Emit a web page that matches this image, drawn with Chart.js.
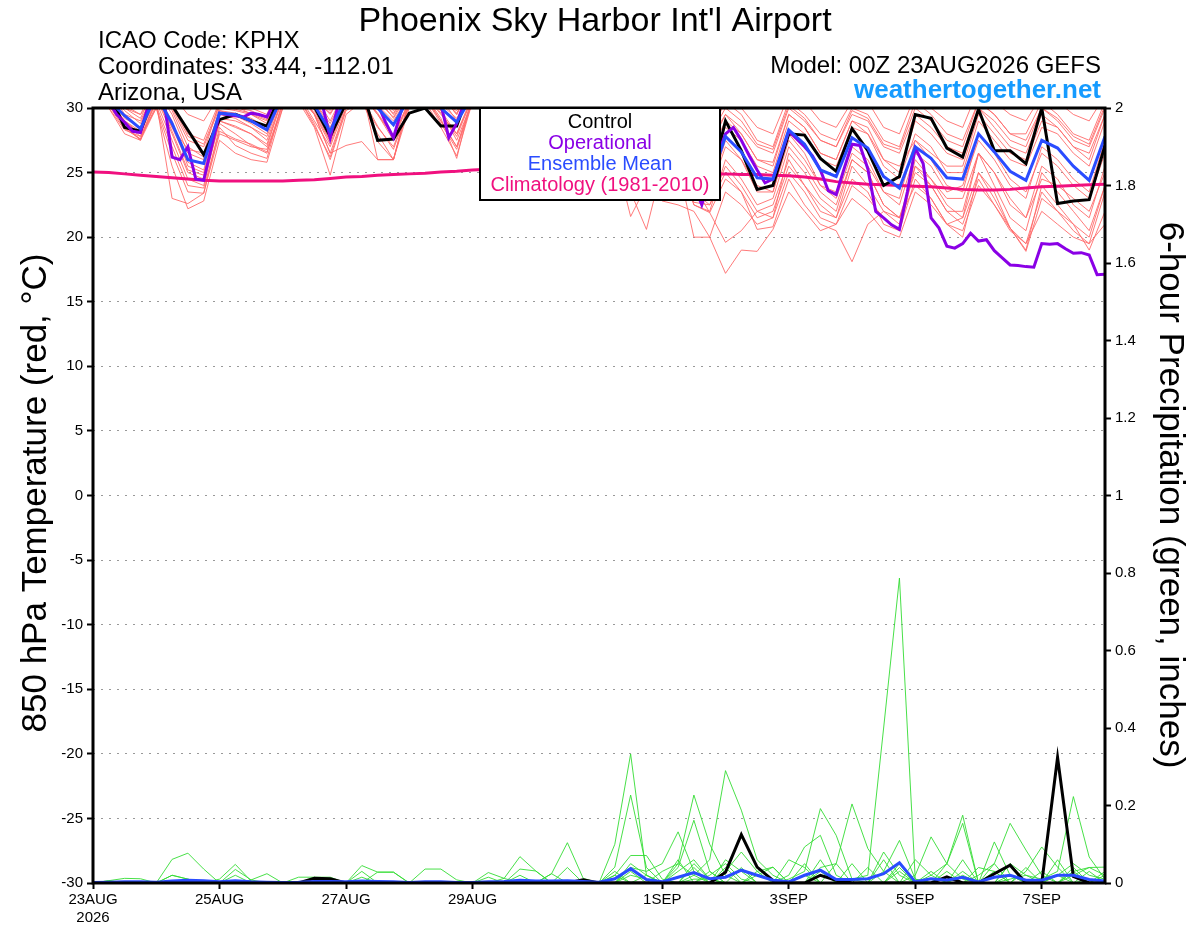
<!DOCTYPE html>
<html lang="en">
<head>
<meta charset="UTF-8" />
<title>Phoenix Sky Harbor Int'l Airport</title>
<script src="https://cdn.jsdelivr.net/npm/chart.js"></script>
<style>
  body { margin: 0; background: #fff; }
  canvas { display: block; }
</style>
</head>
<body>
<canvas id="gefsChart" width="1200" height="927"></canvas>
<script>
// 6-hourly steps from 00Z 23AUG2026 (step 0 .. 64)
const tickSteps = [0, 8, 16, 24, 36, 44, 52, 60];
const tickLabels = [["23AUG", "2026"], "25AUG", "27AUG", "29AUG", "1SEP", "3SEP", "5SEP", "7SEP"];

// 850 hPa temperature (C), 6-hourly
const controlTemp = [32,31.2,28.5,28.2, 31.5,30.2,28.3,26.4, 29.1,29.5,29.0,28.6, 31.5,31.8,30.1,27.8,
  30.4,31.5,27.5,27.6, 29.6,30.0,28.6,28.6, 32.0,32.0,31.0,29.0, 31.0,31.5,30.5,28.5,
  30.5,30.5,29.0,27.0, 29.5,29.0,26.5,24.0, 29.0,26.7,23.7,24.0, 28.0,27.9,26.1,25.1,
  28.4,26.7,24.0,24.7, 29.5,29.2,26.9,26.2, 29.9,26.7,26.7,25.7, 30.0,22.6,22.8,22.9, 27.1];

const meanTemp = [31.5,30.6,29.4,28.4, 31.0,28.8,26.0,25.7, 29.6,29.5,29.0,28.3, 31.0,31.5,30.2,28.2,
  30.8,31.5,30.0,28.7, 30.8,31.5,30.0,28.9, 31.0,31.5,30.5,28.8, 31.0,31.2,30.2,28.5,
  30.5,30.5,29.0,27.5, 29.8,29.0,26.8,24.2, 27.8,26.6,24.6,24.5, 28.3,27.2,25.2,24.7,
  27.7,26.9,24.7,23.8, 27.0,26.1,24.6,24.5, 28.0,26.6,25.1,24.4, 27.5,26.9,25.5,24.4, 27.8];

const climTemp = [25.05,25.0,24.9,24.8,24.7,24.6,24.5,24.4,24.35,24.35,
  24.35,24.35,24.35,24.4,24.45,24.55,24.65,24.7,24.8,24.85,
  24.9,24.95,25.05,25.1,25.2,25.25,25.3,25.3,25.3,25.3,
  25.3,25.25,25.2,25.2,25.1,25.1,25.05,25.0,24.95,24.9,
  24.9,24.85,24.85,24.8,24.75,24.65,24.5,24.3,24.2,24.1,
  24.05,24.0,23.95,23.9,23.8,23.7,23.65,23.65,23.7,23.8,
  23.9,23.95,24.0,24.05,24.1];

// operational run, 3-hourly
const opTemp = [31.5,31,30.5,29.5,28.9,28.2,28.1,30.2,31,30.5,
  26.2,26.0,27.0,24.5,24.4,27.0,29.6,29.5,29.4,29.3,
  29.6,29.5,29.3,30.5,31.5,32,31.5,31,30.8,30.3,
  27.7,30.2,31,31.5,31.5,31,30.3,28.9,27.7,29.8,
  31,31.5,31.5,31,30.3,27.7,28.8,30.5,31.5,31.5,
  31,30,29,29.5,30.5,31.5,32,31.5,31,30,
  29,29.5,30.5,31.5,31.5,31,30.5,29,28,28.5,
  29.5,30,29.5,28.5,27,25.5,24,22.5,24.5,26.3,
  28.0,28.5,27.5,26.3,25.2,24.2,24.5,26.3,28.2,27.6,
  27.0,26.3,25.2,23.6,23.3,25.3,27.2,27.1,25.3,22.0,
  21.5,20.95,20.6,23.5,26.9,25.7,21.5,20.7,19.3,19.15,
  19.5,20.3,19.7,19.8,18.95,18.4,17.85,17.8,17.72,17.67,
  19.5,19.45,19.5,19.1,18.75,18.8,18.62,17.1,17.13];

// ensemble members, 6-hourly
const memberTemps = [
  [32,31,28.5,27.6, 30.5,23.0,22.6,23.4, 28.5,27.1,26.5,26.1, 30.5,31,29.5,26.5, 30,31,27.4,26.0, 30.5,31,29.2,26.1,
   31,31.5,30,27.5, 30.5,30.5,29,26.5, 29.5,28,24.5,23.0, 27,25.5,20.0,20.0, 17.2,19.0,18.9,20.6, 23.5,22.0,20.5,21.0,
   23.0,22.0,20.5,20.0, 23.5,22.5,21.0,20.5, 24.0,22.5,20.7,19.5, 22.0,21.0,20.0,19.5, 21.0],
  [33,32,30.5,30, 32.5,31,29.5,29.0, 31,30.5,30,29.5, 32.5,33,31.5,30.5, 32,33,31.5,30.5, 32,33,31.5,30.5,
   32.5,33,32,31, 32.5,33,32,30.5, 32,32,31,30, 31.5,31,29.5,29, 30.5,30,28.5,28, 31,30.5,29,28.5,
   30.5,30.5,28.5,28, 31,30,29,28.5, 31.5,30.5,29.5,29, 31,30.5,29.5,29, 31],
  [31.5,30.5,28.8,27.8, 30.5,27.5,24.5,24.0, 29.0,28.5,28.0,27.0, 30.8,31,29.5,27.2, 30.5,31,29.5,27.8, 30.5,31,29.8,27.5,
   30.5,31,29.8,27.5, 30.5,30.5,29.0,27.0, 29.5,29.0,27.0,24.8, 27.5,26.0,22.5,21.9, 19.6,20.5,22.0,22.5, 26.0,24.0,22.5,21.5,
   25.5,24.0,22.0,21.0, 26.0,24.5,22.5,21.5, 26.5,24.0,21.5,20.5, 25.0,23.5,22.0,20.5, 24.0],
  [32.5,31.5,29.5,29.0, 31.5,30.0,27.5,27.0, 30.0,29.8,29.5,29.0, 31.5,32,30.8,29.5, 31.5,32,30.5,29.3, 31.5,32,30.5,29.8,
   31.5,32,31,29.5, 31.5,32,31,29.5, 31.0,31.0,30.0,29.0, 30.5,30.0,28.5,27.5, 29.5,28.5,27.0,26.5, 30.0,29.0,27.5,27.0,
   29.5,29.0,27.0,26.5, 29.5,28.5,27.0,26.5, 30.0,29.0,27.5,27.0, 30.0,29.0,27.5,27.0, 30.0],
  [31,30,28.0,27.5, 30,25.5,22.2,22.8, 27.5,26.5,26.0,25.8, 30,30.5,28.5,24.8, 29.5,30.5,28.0,26.0, 30.0,30.5,28.5,26.3,
   30.5,31,29.5,28.0, 30,30,28.5,26.0, 28.5,27.5,23.5,20.6, 25.5,24.5,22.7,22.5, 25.0,23.5,20.6,20.8, 24.5,22.5,21.0,20.5,
   18.1,21.0,22.0,21.5, 24.0,23.0,21.0,20.0, 25.0,23.0,20.7,19.0, 24.0,22.5,21.0,19.0, 22.0],
  [32,31,29.8,28.8, 31.5,29.5,26.5,26.0, 29.8,29.6,29.2,28.5, 31.2,31.8,30.5,28.5, 31,31.8,30.2,29.0, 31,31.8,30.3,29.2,
   31.2,31.8,30.8,29.0, 31.2,31.5,30.5,28.8, 30.8,30.8,29.5,28.0, 30.0,29.5,27.5,26.0, 28.5,27.5,25.5,25.0, 29.0,28.0,26.0,25.5,
   28.5,28.0,25.5,24.5, 28.0,27.0,25.0,25.0, 29.0,27.5,26.0,25.5, 28.5,28.0,26.5,25.5, 29.0],
  [31.2,30.2,28.6,27.5, 30.8,28.0,25.0,24.5, 28.8,28.0,27.1,26.5, 30.5,31.0,29.0,27.0, 30.2,31.0,29.5,27.5, 30.5,31.0,29.5,28.0,
   30.8,31.2,30.0,28.0, 30.8,30.8,29.5,27.8, 30.0,29.5,27.5,26.0, 28.5,27.0,22.5,22.0, 26.0,24.5,22.5,23.0, 27.0,25.5,23.5,22.5,
   26.0,25.0,22.5,21.5, 25.5,24.5,23.0,23.0, 26.5,25.0,22.5,21.5, 24.5,24.0,23.0,22.0, 25.0],
  [32,31.5,30.0,29.5, 31.0,28.5,26.8,26.5, 30.5,30.2,29.5,28.8, 31.8,32.2,31.0,29.0, 31.5,32.0,31.0,29.5, 31.5,32.2,31.0,29.5,
   32.0,32.2,31.2,30.0, 31.8,31.8,31.0,29.5, 31.5,31.0,30.0,28.5, 30.5,29.8,28.0,27.0, 29.5,28.0,26.0,25.8, 29.5,28.5,26.5,26.0,
   29.0,28.5,26.0,25.5, 27.5,26.5,25.5,25.5, 29.5,28.0,26.5,26.0, 29.0,28.5,27.0,26.0, 29.5],
  [31.8,30.8,29.0,28.2, 31.2,29.0,25.5,25.0, 29.2,29.0,28.5,27.8, 31.0,31.5,29.8,27.5, 30.8,31.5,26.0,26.0, 30.8,31.5,29.8,28.0,
   31.0,31.5,30.2,28.2, 31.0,31.0,29.8,28.0, 30.2,29.8,28.5,26.5, 29.0,28.5,25.5,23.5, 27.0,26.0,23.5,23.5, 28.0,26.5,24.0,23.5,
   27.0,26.0,23.5,22.5, 26.5,25.5,23.5,24.0, 27.5,26.0,24.0,23.0, 27.0,26.0,24.5,23.5, 27.5],
  [31.5,30.5,29.0,28.0, 30.8,28.5,25.8,25.2, 29.5,29.2,28.5,27.5, 30.8,31.2,29.5,26.5, 27.1,27.4,26.0,26.0, 30.5,31.0,29.0,27.0,
   30.8,31.2,30.0,28.0, 30.5,30.8,29.5,27.5, 29.8,29.0,27.0,25.0, 28.0,27.0,24.0,21.9, 24.5,23.5,21.5,22.0, 25.5,24.0,22.0,21.5,
   24.5,23.5,21.0,20.5, 24.5,23.0,21.0,21.5, 25.0,23.5,20.7,18.9, 23.0,22.0,20.5,19.5, 23.5],
  [32.5,32,30.2,29.5, 32,30.5,28.0,27.5, 30.5,30.0,29.8,29.2, 32,32.5,31,29.8, 31.8,32.5,31,29.8, 31.8,32.5,31,29.5,
   32,32.5,31.5,30.2, 32,32.2,31.2,30, 31.5,31.5,30.5,29.5, 31.0,30.5,29.0,28.0, 30.5,29.5,27.5,27.0, 30.5,29.5,28.0,27.5,
   30.0,29.5,27.5,27.0, 30.5,29.5,28.0,27.5, 30.5,29.5,28.0,28.0, 30.5,29.5,28.0,27.5, 30.5],
  [31.0,30.0,28.3,27.8, 30.0,26.5,23.5,23.4, 28.0,27.5,27.0,26.8, 30.2,30.8,28.8,26.0, 29.8,30.5,28.5,27.0, 30.2,30.8,29.0,27.0,
   30.5,31.0,29.5,27.5, 30.2,30.2,28.8,27.0, 29.0,26.5,21.6,24.0, 22.8,22.5,22.0,20.0, 23.5,22.5,21.0,21.5, 26.5,25.0,23.0,22.0,
   26.0,25.0,22.5,21.5, 25.0,24.0,22.0,22.0, 26.5,25.0,23.0,21.5, 25.5,24.5,22.5,21.5, 25.5],
  [32.2,31.2,29.2,28.5, 31.5,29.8,27.0,26.2, 29.8,29.4,28.8,28.0, 31.5,32,30.5,28.8, 31.2,32,30.8,29.2, 31.2,32,30.8,29.0,
   31.5,32,31,29.2, 31.5,31.5,30.5,29.0, 31.0,30.5,29.5,28.5, 30.5,30.0,28.0,26.5, 29.0,28.0,26.0,25.5, 29.5,28.5,26.5,26.0,
   29.0,28.0,26.0,25.0, 29.0,28.0,26.5,26.0, 30.0,28.5,27.0,26.5, 29.5,28.5,27.0,26.5, 29.5],
  [31.0,30.2,28.4,27.6, 30.2,27.0,24.0,23.8, 28.2,27.6,27.2,26.6, 30.0,30.8,28.6,26.2, 30.0,30.8,28.6,26.8, 30.2,30.8,28.8,26.8,
   30.5,31.0,29.2,27.2, 30.0,30.0,28.5,26.8, 29.2,28.2,26.0,24.5, 27.0,25.0,23.5,22.5, 25.5,24.0,22.0,21.5, 25.0,23.5,21.5,21.0,
   24.0,23.0,21.5,20.5, 25.5,24.0,22.0,21.0, 24.5,22.5,20.5,19.5, 23.5,22.0,21.0,20.0, 24.0],
  [31.6,30.6,28.9,28.0, 31.0,28.2,25.2,24.8, 29.0,28.6,28.0,27.2, 30.8,31.2,29.6,27.4, 30.6,31.2,29.6,27.8, 30.6,31.2,29.6,27.8,
   30.8,31.2,29.9,27.8, 30.6,30.6,29.2,27.2, 29.6,29.2,27.5,25.5, 28.5,27.5,24.5,23.5, 27.5,26.0,24.0,23.5, 27.5,26.0,24.0,23.0,
   26.5,25.5,23.5,23.0, 27.5,26.0,24.0,23.5, 28.0,26.5,24.5,23.5, 26.5,25.5,24.0,23.0, 26.5],
  [32.8,31.8,30.0,29.2, 31.8,30.2,27.8,27.2, 30.2,29.9,29.6,29.1, 31.8,32.2,31.0,29.6, 31.6,32.2,30.8,29.6, 31.6,32.2,30.8,29.6,
   31.8,32.2,31.2,29.8, 31.8,32.0,31.0,29.6, 31.2,31.2,30.2,29.2, 30.8,30.2,28.8,27.8, 30.0,29.0,27.2,26.8, 30.2,29.2,27.5,27.0,
   29.8,29.2,27.2,26.8, 30.0,29.0,27.5,27.0, 30.5,29.5,28.0,27.5, 30.0,29.2,27.8,27.2, 30.2]
];

// 6-hour precipitation (inches)
const controlPrecip = [0,0,0,0,0,0,0,0.003,0,0, 0,0,0,0,0.012,0.011,0,0,0,0, 0,0,0,0,0,0,0,0,0,0,
  0,0.008,0,0,0,0,0,0,0,0, 0.028,0.125,0.041,0.007,0,0,0.02,0.007,0,0, 0,0,0,0,0.016,0,0,0.024,0.046,0,
  0,0.324,0.017,0,0];

const meanPrecip = [0.001,0.002,0.003,0.003,0.002,0.005,0.007,0.006,0.003,0.006,
  0.003,0.002,0.001,0.002,0.004,0.004,0.003,0.005,0.004,0.003,
  0.001,0.003,0.003,0.001,0.001,0.003,0.004,0.007,0.005,0.005,
  0.006,0.004,0.002,0.011,0.037,0.009,0.003,0.015,0.027,0.011,
  0.015,0.033,0.02,0.007,0.003,0.02,0.033,0.009,0.009,0.011,
  0.024,0.052,0.003,0.011,0.007,0.015,0.003,0.015,0.02,0.007,
  0.007,0.02,0.02,0.009,0.005];

const memberPrecips = [
  [0,0,0,0,0,0.061,0.077,0.036,0,0, 0,0,0,0,0,0,0,0,0,0, 0,0,0,0,0,0,0,0,0,0.024,
   0.104,0.012,0,0,0,0,0,0,0,0.02, 0.05,0.01,0,0,0,0,0,0,0.01,0.02, 0.40,0.787,0.01,0,0,0.02,0,0,0,0, 0,0,0,0,0],
  [0,0,0,0,0,0,0,0,0.01,0.048, 0.005,0,0,0,0,0,0,0,0,0, 0,0,0,0,0,0,0,0,0,0,
   0,0,0,0.10,0.333,0.02,0,0,0.01,0.01, 0,0,0,0,0.01,0.03,0.192,0.123,0.01,0, 0,0,0,0,0,0,0,0,0.01,0.02, 0.01,0.03,0.223,0.067,0.01],
  [0,0,0,0,0,0,0,0,0,0, 0,0,0,0,0,0,0,0.045,0.028,0.028, 0,0,0,0,0,0,0.012,0.068,0.031,0,
   0,0,0,0.041,0.227,0.04,0,0.05,0.227,0.10, 0.02,0,0,0,0,0,0,0,0,0, 0,0,0,0.02,0.05,0.175,0,0,0,0, 0,0,0,0.01,0],
  [0,0,0,0,0,0,0,0,0,0, 0,0,0,0,0,0,0,0,0,0, 0,0.036,0.036,0.008,0,0,0,0,0,0,
   0,0,0,0,0.02,0.01,0,0,0.02,0.06, 0.29,0.188,0.06,0.02,0,0,0,0,0,0, 0,0,0,0,0,0,0.02,0.05,0.154,0.085, 0.02,0,0,0,0],
  [0,0,0,0,0,0,0,0,0,0, 0.008,0.024,0,0,0,0,0,0,0,0, 0,0,0,0,0,0,0,0.036,0.031,0,
   0,0,0,0,0.04,0.03,0.05,0.132,0.03,0, 0,0,0,0,0,0,0,0.05,0.204,0.089, 0.03,0,0,0,0,0,0,0,0,0, 0,0,0.02,0.04,0.02],
  [0,0,0,0,0,0,0,0,0,0, 0,0,0,0,0.015,0.015,0,0,0,0, 0,0,0,0,0,0,0,0,0,0,
   0,0,0,0,0,0,0,0.04,0.162,0.03, 0,0,0,0,0.02,0.093,0.123,0.02,0,0, 0,0,0.02,0.119,0.05,0.154,0,0,0,0.03, 0.093,0.041,0,0,0],
  [0,0.006,0.012,0.011,0,0,0,0,0,0, 0,0,0,0,0,0,0,0,0,0, 0,0,0,0,0,0,0,0,0,0,
   0,0,0,0.02,0.071,0.071,0.01,0,0,0, 0.03,0.08,0.03,0.041,0,0,0,0,0,0, 0.03,0.11,0.01,0,0,0,0,0.106,0.02,0, 0,0,0.03,0.04,0.041],
  [0,0,0,0,0,0,0,0,0,0.035, 0.008,0,0,0.015,0.015,0,0,0,0,0, 0,0,0,0,0,0.027,0.012,0,0,0,
   0,0,0,0,0,0,0,0.03,0.06,0.01, 0,0,0.02,0.041,0,0,0.04,0.05,0,0, 0,0.03,0,0,0.05,0.01,0,0,0.05,0.02, 0,0,0,0,0],
  [0,0,0,0,0,0,0,0,0,0, 0,0,0,0,0,0,0,0,0.028,0.028, 0,0,0,0,0,0,0,0,0,0.024,
   0,0,0,0,0,0,0.03,0.05,0.02,0, 0,0,0,0,0.06,0.04,0,0,0,0, 0,0,0.06,0.02,0,0,0.04,0.03,0,0, 0,0.02,0.05,0.02,0.01],
  [0,0,0,0,0,0.02,0.01,0,0,0, 0,0,0,0,0,0,0,0.03,0,0, 0,0,0,0,0,0,0,0,0,0,
   0.04,0,0,0.02,0,0,0,0,0,0, 0.06,0.03,0,0,0,0,0,0,0.05,0, 0.08,0.02,0,0,0,0,0,0.03,0,0, 0,0.06,0,0.03,0],
  [0,0.006,0,0,0,0,0,0,0,0, 0,0,0,0,0,0,0,0,0,0, 0,0,0,0,0,0,0,0,0,0,
   0,0,0,0,0.05,0.02,0,0,0.04,0, 0,0,0.03,0,0,0,0.06,0,0,0, 0,0.05,0,0,0,0,0,0,0,0.04, 0,0,0,0,0.02],
  [0,0,0,0,0,0,0,0,0,0, 0,0,0,0,0,0,0,0,0,0, 0,0,0,0,0,0,0,0,0,0,
   0,0,0,0,0,0.02,0,0,0,0.03, 0,0,0,0,0,0.05,0,0,0,0.04, 0,0,0,0.03,0,0.06,0,0,0.05,0, 0.03,0,0.04,0,0],
  [0,0,0,0,0,0.02,0.01,0,0,0, 0,0,0,0,0,0,0,0.015,0,0, 0,0,0,0,0,0,0,0.02,0,0,
   0,0,0,0,0.03,0,0,0,0.05,0.01, 0,0.04,0,0,0,0,0.03,0,0,0, 0,0.04,0,0,0,0.03,0,0,0.02,0, 0,0,0.03,0,0],
  [0,0,0,0,0,0,0,0,0,0.02, 0,0,0,0,0,0,0,0,0,0, 0,0,0,0,0,0.015,0,0,0,0,
   0,0,0,0.03,0,0,0,0.06,0,0, 0.04,0,0,0,0,0.02,0,0,0,0, 0.06,0,0,0,0.03,0,0,0.05,0,0, 0,0.02,0,0,0.03]
];

const FONT = "'Liberation Sans', Arial, Helvetica, sans-serif";
const BLUE = "#2a4cff";
const PURPLE = "#8a00e6";
const PINK = "#f0107f";
const RED = "#ff6b6b";
const GREEN = "#33dd33";

function series(values, step) {
  return values.map((v, i) => ({ x: i * step, y: v }));
}

const datasets = [
  { label: "Ensemble Mean", data: series(meanTemp, 1), borderColor: BLUE, borderWidth: 3, yAxisID: "y", order: 0 },
  { label: "Operational", data: series(opTemp, 0.5), borderColor: PURPLE, borderWidth: 3, yAxisID: "y", order: 1 },
  { label: "Control", data: series(controlTemp, 1), borderColor: "#000", borderWidth: 3, yAxisID: "y", order: 2 },
  { label: "Climatology", data: series(climTemp, 1), borderColor: PINK, borderWidth: 3, yAxisID: "y", order: 3 },
  { label: "Mean precip", data: series(meanPrecip, 1), borderColor: BLUE, borderWidth: 3, yAxisID: "y2", order: 0 },
  { label: "Control precip", data: series(controlPrecip, 1), borderColor: "#000", borderWidth: 3, yAxisID: "y2", order: 2 }
];
memberPrecips.forEach((m, k) => {
  datasets.push({ label: "p" + k, data: series(m, 1), borderColor: GREEN, borderWidth: 0.9, yAxisID: "y2", order: 5 });
});
memberTemps.forEach((m, k) => {
  datasets.push({ label: "t" + k, data: series(m, 1), borderColor: RED, borderWidth: 0.9, yAxisID: "y", order: 6 });
});

const decorations = {
  id: "decorations",
  afterDatasetsDraw(chart) {
    const { ctx, chartArea: a } = chart;
    ctx.save();
    ctx.strokeStyle = "#000";
    ctx.lineWidth = 3;
    ctx.strokeRect(a.left, a.top, a.right - a.left, a.bottom - a.top);

    // legend box
    ctx.fillStyle = "#fff";
    ctx.fillRect(480, 108, 240, 92);
    ctx.lineWidth = 2;
    ctx.strokeRect(480, 108, 240, 92);
    ctx.font = "20px " + FONT;
    ctx.textAlign = "center";
    ctx.fillStyle = "#000";
    ctx.fillText("Control", 600, 128);
    ctx.fillStyle = PURPLE;
    ctx.fillText("Operational", 600, 149);
    ctx.fillStyle = BLUE;
    ctx.fillText("Ensemble Mean", 600, 170);
    ctx.fillStyle = PINK;
    ctx.fillText("Climatology (1981-2010)", 600, 191);
    ctx.restore();
  },
  afterDraw(chart) {
    const ctx = chart.ctx;
    ctx.save();
    ctx.fillStyle = "#000";
    ctx.textBaseline = "alphabetic";
    ctx.font = "34px " + FONT;
    ctx.textAlign = "center";
    ctx.fillText("Phoenix Sky Harbor Int'l Airport", 595, 31);

    ctx.font = "24px " + FONT;
    ctx.textAlign = "left";
    ctx.fillText("ICAO Code: KPHX", 98, 48);
    ctx.fillText("Coordinates: 33.44, -112.01", 98, 74);
    ctx.fillText("Arizona, USA", 98, 100);

    ctx.textAlign = "right";
    ctx.fillText("Model: 00Z 23AUG2026 GEFS", 1101, 73);
    ctx.font = "bold 26px " + FONT;
    ctx.fillStyle = "#169bff";
    ctx.fillText("weathertogether.net", 1101, 98);

    // axis titles
    ctx.fillStyle = "#000";
    ctx.font = "35px " + FONT;
    ctx.textAlign = "center";
    ctx.textBaseline = "middle";
    ctx.save();
    ctx.translate(36, 493);
    ctx.rotate(-Math.PI / 2);
    ctx.fillText("850 hPa Temperature (red, \u00B0C)", 0, 0);
    ctx.restore();
    ctx.save();
    ctx.translate(1170, 495);
    ctx.rotate(Math.PI / 2);
    ctx.fillText("6-hour Precipitation (green, inches)", 0, 0);
    ctx.restore();
    ctx.restore();
  }
};

Chart.defaults.font.family = FONT;
Chart.defaults.font.size = 15;
Chart.defaults.color = "#000";

new Chart(document.getElementById("gefsChart").getContext("2d"), {
  type: "line",
  data: { datasets: datasets },
  options: {
    responsive: false,
    animation: false,
    devicePixelRatio: 1,
    layout: { padding: { top: 108, left: 0, right: 0, bottom: 0 } },
    elements: { point: { radius: 0 }, line: { tension: 0, fill: false } },
    plugins: { legend: { display: false }, tooltip: { enabled: false } },
    scales: {
      x: {
        type: "linear",
        min: 0,
        max: 64,
        afterBuildTicks(axis) {
          axis.ticks = tickSteps.map(v => ({ value: v }));
        },
        afterFit(scale) { scale.height = 44; },
        ticks: {
          autoSkip: false,
          maxRotation: 0,
          padding: 2,
          callback: (value) => tickLabels[tickSteps.indexOf(value)]
        },
        grid: { drawOnChartArea: false, tickLength: 6, tickColor: "#000", tickWidth: 2 },
        border: { display: false }
      },
      y: {
        position: "left",
        min: -30,
        max: 30,
        afterFit(scale) { scale.width = 93; },
        ticks: { stepSize: 5, padding: 4, callback: v => String(v) },
        grid: { color: "#999", lineWidth: 1, tickLength: 6, tickColor: "#000", tickWidth: 2 },
        border: { display: false, dash: [2, 6] }
      },
      y2: {
        position: "right",
        min: 0,
        max: 2,
        afterFit(scale) { scale.width = 95; },
        ticks: { stepSize: 0.2, padding: 4, callback: v => String(Math.round(v * 10) / 10) },
        grid: { drawOnChartArea: false, tickLength: 6, tickColor: "#000", tickWidth: 2 },
        border: { display: false }
      }
    }
  },
  plugins: [decorations]
});
</script>
</body>
</html>
